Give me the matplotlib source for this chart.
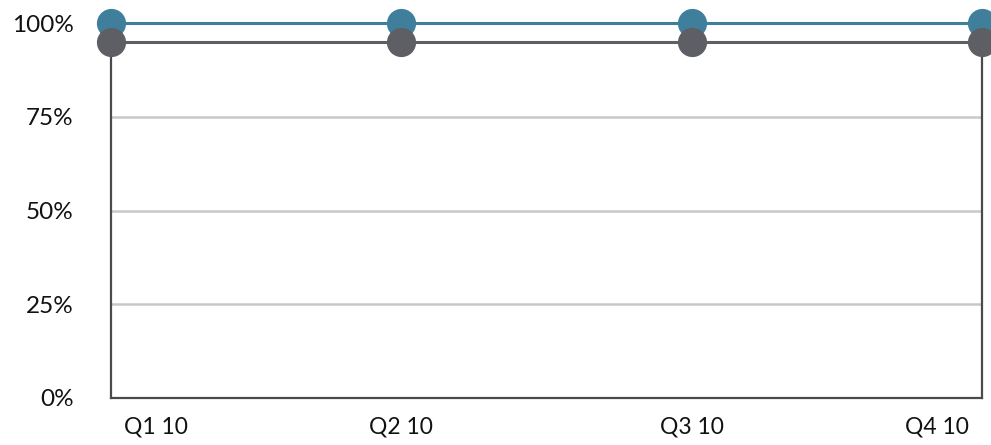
import numpy as np
import matplotlib.pyplot as plt
from matplotlib.transforms import ScaledTranslation

quarters = ['Q1 10', 'Q2 10', 'Q3 10', 'Q4 10']
series_top = [100, 100, 100, 100]
series_bottom = [95, 95, 95, 95]
y_ticks = [0, 25, 50, 75, 100]
y_labels = ['0%', '25%', '50%', '75%', '100%']

plt.rcParams['font.family'] = ['Lato', 'DejaVu Sans']

fig = plt.figure(figsize=(9.91, 4.45), dpi=100)
ax = fig.add_axes([111/991, 1 - 398/445, (982 - 111)/991, (398 - 23)/445])

x = np.arange(len(quarters))

for y in [25, 50, 75]:
    ax.axhline(y, color='#c8c8cc', lw=1.8, zorder=1)

ax.plot(x, series_top, color='#3f7f9b', lw=2.2, marker='o', ms=20,
        clip_on=False, zorder=3)
ax.plot(x, series_bottom, color='#5e5f64', lw=2.2, marker='o', ms=20,
        clip_on=False, zorder=4)

ax.set_xlim(0, len(quarters) - 1)
ax.set_ylim(0, 100)

ax.set_yticks(y_ticks)
ax.set_yticklabels(y_labels, fontsize=17.5)
ax.set_xticks(x)
ax.set_xticklabels(quarters, fontsize=16.5)
ax.tick_params(axis='both', length=0, colors='#111111')
ax.tick_params(axis='y', pad=27)
ax.tick_params(axis='x', pad=13)

# first / last label pushed inward like the original
xl = ax.get_xticklabels()
xl[0].set_transform(xl[0].get_transform() + ScaledTranslation(0.45, 0, fig.dpi_scale_trans))
xl[-1].set_transform(xl[-1].get_transform() + ScaledTranslation(-0.45, 0, fig.dpi_scale_trans))

ax.spines['top'].set_visible(False)
for s in ['left', 'right', 'bottom']:
    ax.spines[s].set_color('#4a4a4a')
    ax.spines[s].set_linewidth(1.6)

fig.savefig('out.png', dpi=100)
